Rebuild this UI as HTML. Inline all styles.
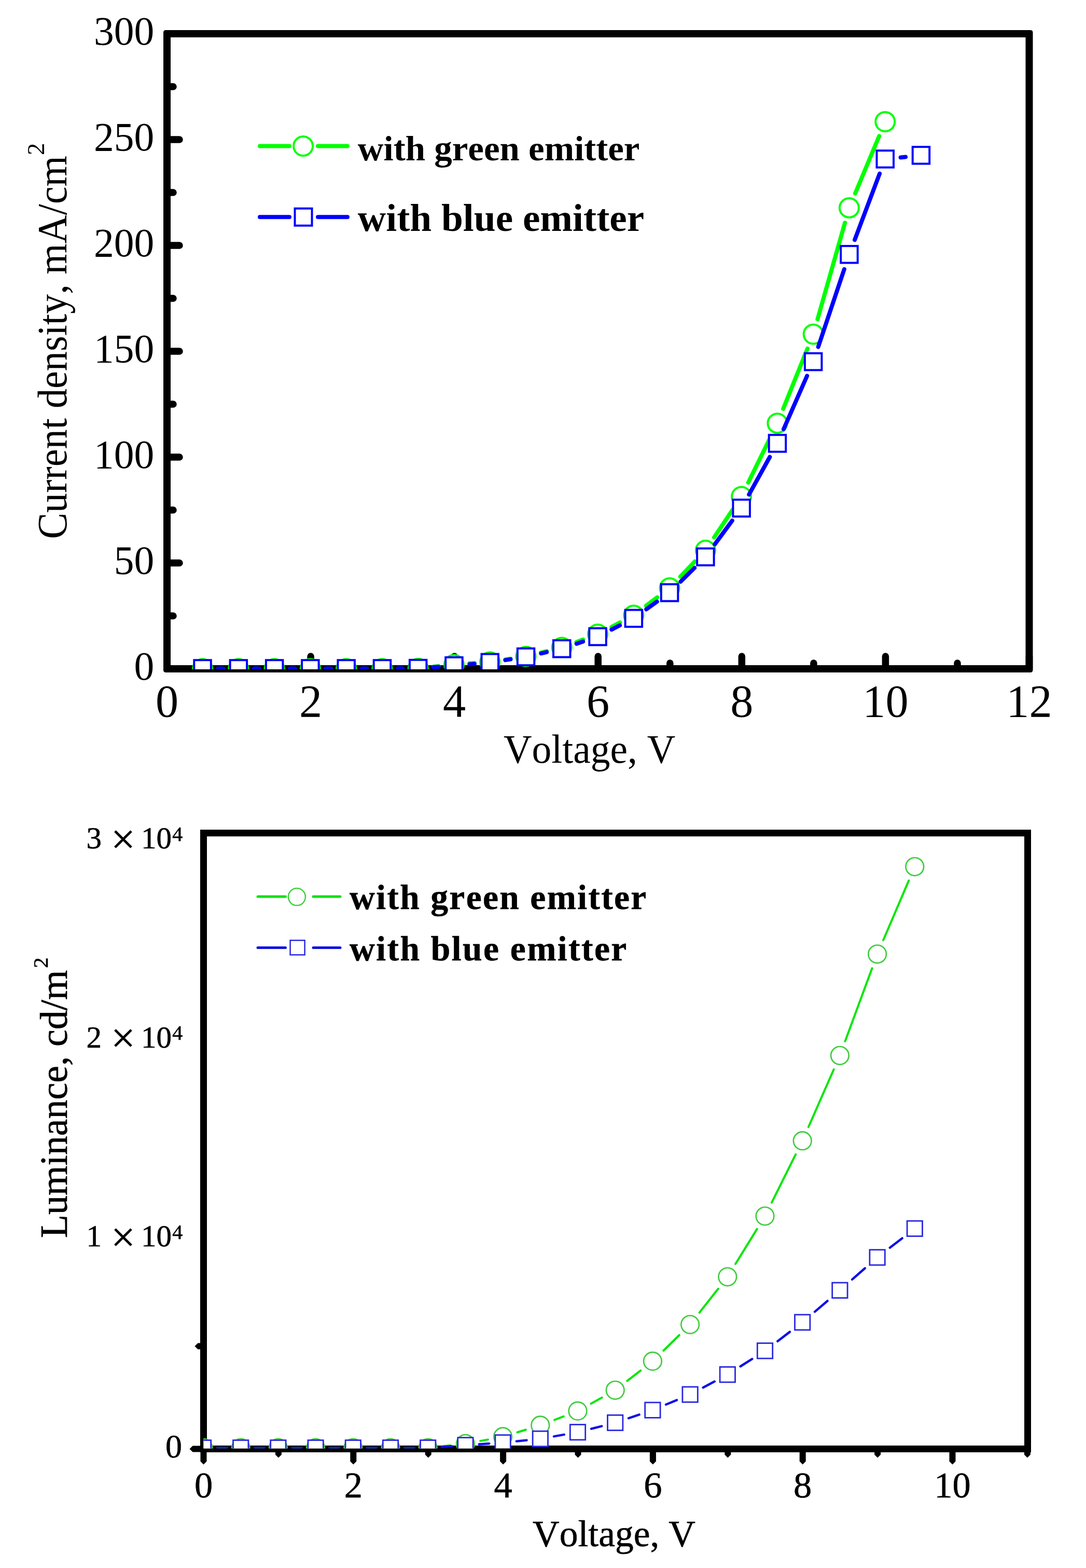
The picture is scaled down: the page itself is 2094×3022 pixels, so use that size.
<!DOCTYPE html><html><head><meta charset="utf-8"><style>html,body{margin:0;padding:0;background:#fff;}svg{display:block}text{font-kerning:none}</style></head><body>
<svg width="2094" height="3022" viewBox="0 0 2094 3022">
<rect width="2094" height="3022" fill="#fff"/>
<rect x="315.0" y="58.0" width="1676.5" height="1238.0" rx="4.5" fill="#000"/>
<rect x="329.0" y="72.0" width="1648.5" height="1210.0" fill="#fff"/>
<path d="M322.0 1289.0h24M322.0 1187.0h12M322.0 1085.0h24M322.0 983.0h12M322.0 881.0h24M322.0 779.0h12M322.0 677.0h24M322.0 575.0h12M322.0 473.0h24M322.0 371.0h12M322.0 269.0h24M322.0 167.0h12M322.0 65.0h24M322.0 1289.0v-24M460.5 1289.0v-11M599.1 1289.0v-24M737.6 1289.0v-11M876.2 1289.0v-24M1014.7 1289.0v-11M1153.2 1289.0v-24M1291.8 1289.0v-11M1430.3 1289.0v-24M1568.9 1289.0v-11M1707.4 1289.0v-24M1846.0 1289.0v-11M1984.5 1289.0v-24" stroke="#000" stroke-width="13.5" stroke-linecap="round" fill="none"/>
<defs><clipPath id="c1"><rect x="322.0" y="65.0" width="1662.5" height="1225.0"/></clipPath>
<clipPath id="c2"><rect x="392.5" y="1605.5" width="1589" height="1186"/></clipPath></defs>
<g clip-path="url(#c1)">
<path d="M420.6 1288.7L429.8 1288.7M489.8 1288.7L499.1 1288.7M559.1 1288.7L568.4 1288.7M628.4 1288.7L637.7 1288.7M697.7 1288.7L706.9 1288.7M766.9 1288.5L776.2 1288.4M836.0 1285.0L845.6 1284.0M905.4 1278.6L914.8 1278.0M974.4 1271.3L984.4 1269.7M1043.1 1257.9L1054.2 1255.0M1111.4 1237.4L1124.4 1232.6M1179.1 1208.3L1195.3 1199.7M1245.7 1167.5L1267.2 1151.2M1311.8 1111.3L1339.6 1082.2M1377.0 1035.6L1412.9 981.9M1442.8 930.1L1485.7 842.6M1510.1 787.9L1557.0 671.8M1576.4 615.1L1629.2 429.3M1649.0 372.7L1695.2 262.2" stroke="#00ff00" stroke-width="8" stroke-linecap="round" fill="none"/>
<circle cx="390.6" cy="1288.7" r="18.5" fill="#fff" stroke="#00ff00" stroke-width="4"/>
<circle cx="459.8" cy="1288.7" r="18.5" fill="#fff" stroke="#00ff00" stroke-width="4"/>
<circle cx="529.1" cy="1288.7" r="18.5" fill="#fff" stroke="#00ff00" stroke-width="4"/>
<circle cx="598.4" cy="1288.7" r="18.5" fill="#fff" stroke="#00ff00" stroke-width="4"/>
<circle cx="667.7" cy="1288.7" r="18.5" fill="#fff" stroke="#00ff00" stroke-width="4"/>
<circle cx="736.9" cy="1288.7" r="18.5" fill="#fff" stroke="#00ff00" stroke-width="4"/>
<circle cx="806.2" cy="1288.2" r="18.5" fill="#fff" stroke="#00ff00" stroke-width="4"/>
<circle cx="875.5" cy="1280.8" r="18.5" fill="#fff" stroke="#00ff00" stroke-width="4"/>
<circle cx="944.7" cy="1275.8" r="18.5" fill="#fff" stroke="#00ff00" stroke-width="4"/>
<circle cx="1014.0" cy="1265.2" r="18.5" fill="#fff" stroke="#00ff00" stroke-width="4"/>
<circle cx="1083.3" cy="1247.7" r="18.5" fill="#fff" stroke="#00ff00" stroke-width="4"/>
<circle cx="1152.5" cy="1222.3" r="18.5" fill="#fff" stroke="#00ff00" stroke-width="4"/>
<circle cx="1221.8" cy="1185.7" r="18.5" fill="#fff" stroke="#00ff00" stroke-width="4"/>
<circle cx="1291.1" cy="1133.0" r="18.5" fill="#fff" stroke="#00ff00" stroke-width="4"/>
<circle cx="1360.4" cy="1060.5" r="18.5" fill="#fff" stroke="#00ff00" stroke-width="4"/>
<circle cx="1429.6" cy="957.0" r="18.5" fill="#fff" stroke="#00ff00" stroke-width="4"/>
<circle cx="1498.9" cy="815.7" r="18.5" fill="#fff" stroke="#00ff00" stroke-width="4"/>
<circle cx="1568.2" cy="644.0" r="18.5" fill="#fff" stroke="#00ff00" stroke-width="4"/>
<circle cx="1637.4" cy="400.4" r="18.5" fill="#fff" stroke="#00ff00" stroke-width="4"/>
<circle cx="1706.7" cy="234.5" r="18.5" fill="#fff" stroke="#00ff00" stroke-width="4"/>
<path d="M420.6 1288.5L429.8 1288.5M489.8 1288.5L499.1 1288.5M559.1 1288.5L568.4 1288.5M628.4 1288.5L637.7 1288.5M697.7 1288.5L706.9 1288.5M766.9 1288.3L776.2 1288.2M836.1 1285.8L845.5 1285.2M905.3 1280.3L914.9 1279.5M974.4 1272.1L984.4 1270.6M1043.3 1259.3L1054.0 1256.8M1111.7 1240.7L1124.1 1236.5M1179.3 1213.4L1195.1 1205.3M1246.2 1174.3L1266.7 1159.6M1312.4 1121.0L1339.1 1094.5M1378.2 1049.1L1411.8 1003.5M1444.2 953.1L1484.3 880.7M1511.0 827.0L1556.1 724.5M1577.7 668.6L1627.9 518.8M1648.0 462.3L1696.1 334.6M1736.6 303.4L1746.1 302.5" stroke="#0000ff" stroke-width="8" stroke-linecap="round" fill="none"/>
<rect x="374.3" y="1272.2" width="32.5" height="32.5" fill="#fff" stroke="#0000ff" stroke-width="4"/>
<rect x="443.6" y="1272.2" width="32.5" height="32.5" fill="#fff" stroke="#0000ff" stroke-width="4"/>
<rect x="512.9" y="1272.2" width="32.5" height="32.5" fill="#fff" stroke="#0000ff" stroke-width="4"/>
<rect x="582.1" y="1272.2" width="32.5" height="32.5" fill="#fff" stroke="#0000ff" stroke-width="4"/>
<rect x="651.4" y="1272.2" width="32.5" height="32.5" fill="#fff" stroke="#0000ff" stroke-width="4"/>
<rect x="720.7" y="1272.2" width="32.5" height="32.5" fill="#fff" stroke="#0000ff" stroke-width="4"/>
<rect x="789.9" y="1271.8" width="32.5" height="32.5" fill="#fff" stroke="#0000ff" stroke-width="4"/>
<rect x="859.2" y="1266.8" width="32.5" height="32.5" fill="#fff" stroke="#0000ff" stroke-width="4"/>
<rect x="928.5" y="1260.5" width="32.5" height="32.5" fill="#fff" stroke="#0000ff" stroke-width="4"/>
<rect x="997.8" y="1249.7" width="32.5" height="32.5" fill="#fff" stroke="#0000ff" stroke-width="4"/>
<rect x="1067.0" y="1234.0" width="32.5" height="32.5" fill="#fff" stroke="#0000ff" stroke-width="4"/>
<rect x="1136.3" y="1210.8" width="32.5" height="32.5" fill="#fff" stroke="#0000ff" stroke-width="4"/>
<rect x="1205.6" y="1175.5" width="32.5" height="32.5" fill="#fff" stroke="#0000ff" stroke-width="4"/>
<rect x="1274.8" y="1126.0" width="32.5" height="32.5" fill="#fff" stroke="#0000ff" stroke-width="4"/>
<rect x="1344.1" y="1057.0" width="32.5" height="32.5" fill="#fff" stroke="#0000ff" stroke-width="4"/>
<rect x="1413.4" y="963.0" width="32.5" height="32.5" fill="#fff" stroke="#0000ff" stroke-width="4"/>
<rect x="1482.7" y="838.2" width="32.5" height="32.5" fill="#fff" stroke="#0000ff" stroke-width="4"/>
<rect x="1551.9" y="680.8" width="32.5" height="32.5" fill="#fff" stroke="#0000ff" stroke-width="4"/>
<rect x="1621.2" y="474.1" width="32.5" height="32.5" fill="#fff" stroke="#0000ff" stroke-width="4"/>
<rect x="1690.5" y="290.2" width="32.5" height="32.5" fill="#fff" stroke="#0000ff" stroke-width="4"/>
<rect x="1759.7" y="283.1" width="32.5" height="32.5" fill="#fff" stroke="#0000ff" stroke-width="4"/>
</g>
<text x="297.3" y="1310.0" font-family='"Liberation Serif", "Times New Roman", serif' font-size="77.5" text-anchor="end">0</text>
<text x="297.3" y="1106.0" font-family='"Liberation Serif", "Times New Roman", serif' font-size="77.5" text-anchor="end">50</text>
<text x="297.3" y="902.0" font-family='"Liberation Serif", "Times New Roman", serif' font-size="77.5" text-anchor="end">100</text>
<text x="297.3" y="698.0" font-family='"Liberation Serif", "Times New Roman", serif' font-size="77.5" text-anchor="end">150</text>
<text x="297.3" y="494.0" font-family='"Liberation Serif", "Times New Roman", serif' font-size="77.5" text-anchor="end">200</text>
<text x="297.3" y="290.0" font-family='"Liberation Serif", "Times New Roman", serif' font-size="77.5" text-anchor="end">250</text>
<text x="297.3" y="86.0" font-family='"Liberation Serif", "Times New Roman", serif' font-size="77.5" text-anchor="end">300</text>
<text x="322.0" y="1380.8" font-family='"Liberation Serif", "Times New Roman", serif' font-size="88.3" text-anchor="middle">0</text>
<text x="599.1" y="1380.8" font-family='"Liberation Serif", "Times New Roman", serif' font-size="88.3" text-anchor="middle">2</text>
<text x="876.2" y="1380.8" font-family='"Liberation Serif", "Times New Roman", serif' font-size="88.3" text-anchor="middle">4</text>
<text x="1153.2" y="1380.8" font-family='"Liberation Serif", "Times New Roman", serif' font-size="88.3" text-anchor="middle">6</text>
<text x="1430.3" y="1380.8" font-family='"Liberation Serif", "Times New Roman", serif' font-size="88.3" text-anchor="middle">8</text>
<text x="1707.4" y="1380.8" font-family='"Liberation Serif", "Times New Roman", serif' font-size="88.3" text-anchor="middle">10</text>
<text x="1984.5" y="1380.8" font-family='"Liberation Serif", "Times New Roman", serif' font-size="88.3" text-anchor="middle">12</text>
<text x="971" y="1469.5" font-family='"Liberation Serif", "Times New Roman", serif' font-size="78.6" textLength="331.3" lengthAdjust="spacingAndGlyphs">Voltage, V</text>
<text transform="translate(127.5 1039) rotate(-90)" font-family='"Liberation Serif", "Times New Roman", serif' font-size="80" textLength="738.9" lengthAdjust="spacingAndGlyphs">Current density, mA/cm</text>
<text transform="translate(84.7 299.1) rotate(-90)" font-family='"Liberation Serif", "Times New Roman", serif' font-size="47">2</text>
<path d="M501 281.5H558M613 281.5H670" stroke="#00ff00" stroke-width="8" stroke-linecap="round"/>
<circle cx="584.6" cy="281.6" r="18.5" fill="#fff" stroke="#00ff00" stroke-width="4"/>
<path d="M501 418.3H558M613 418.3H670" stroke="#0000ff" stroke-width="8" stroke-linecap="round"/>
<rect x="568.5" y="401.8" width="33" height="33" fill="#fff" stroke="#0000ff" stroke-width="4"/>
<text x="689.8" y="309" font-family='"Liberation Serif", "Times New Roman", serif' font-size="67.7" font-weight="bold" textLength="543.6" lengthAdjust="spacingAndGlyphs">with green emitter</text>
<text x="689.8" y="444.8" font-family='"Liberation Serif", "Times New Roman", serif' font-size="73.3" font-weight="bold" textLength="552.3" lengthAdjust="spacingAndGlyphs">with blue emitter</text>
<path d="M386.5 2792.5V2816.5L392.5 2822.5L398.5 2816.5V2792.5ZM530.9 2792.5V2803.5L536.9 2809.5L542.9 2803.5V2792.5ZM675.3 2792.5V2816.5L681.3 2822.5L687.3 2816.5V2792.5ZM819.7 2792.5V2803.5L825.7 2809.5L831.7 2803.5V2792.5ZM964.1 2792.5V2816.5L970.1 2822.5L976.1 2816.5V2792.5ZM1108.5 2792.5V2803.5L1114.5 2809.5L1120.5 2803.5V2792.5ZM1252.9 2792.5V2816.5L1258.9 2822.5L1264.9 2816.5V2792.5ZM1397.3 2792.5V2803.5L1403.3 2809.5L1409.3 2803.5V2792.5ZM1541.7 2792.5V2816.5L1547.7 2822.5L1553.7 2816.5V2792.5ZM1686.1 2792.5V2803.5L1692.1 2809.5L1698.1 2803.5V2792.5ZM1830.5 2792.5V2816.5L1836.5 2822.5L1842.5 2816.5V2792.5ZM1974.9 2792.5V2803.5L1980.9 2809.5L1986.9 2803.5V2792.5ZM392.5 2786.5H371.5L365.5 2792.5L371.5 2798.5H392.5ZM392.5 2588.5H381.5L375.5 2594.5L381.5 2600.5H392.5Z" fill="#000"/>
<rect x="392.5" y="1605.5" width="1589.0" height="1187.0" fill="none" stroke="#000" stroke-width="13" stroke-linejoin="miter"/>
<g clip-path="url(#c2)">
<path d="M421.2 2790.5L435.0 2790.5M493.4 2790.5L507.2 2790.5M565.6 2790.5L579.4 2790.5M637.8 2790.5L651.6 2790.5M710.0 2790.5L723.8 2790.5M782.2 2790.5L796.0 2790.5M854.2 2787.3L868.4 2785.7M926.1 2777.1L940.9 2774.4M997.5 2760.5L1013.9 2755.5M1069.1 2736.6L1086.7 2729.8M1139.5 2705.2L1160.7 2693.5M1209.3 2661.4L1235.3 2641.3M1279.3 2603.0L1309.7 2573.2M1348.6 2529.8L1384.8 2483.8M1418.1 2436.0L1459.7 2368.6M1488.0 2317.7L1534.2 2224.8M1558.9 2172.0L1607.7 2061.0M1629.5 2006.9L1681.5 1866.2M1703.1 1812.0L1752.3 1697.1" stroke="#00e600" stroke-width="4" stroke-linecap="round" fill="none"/>
<circle cx="392.0" cy="2790.5" r="17.3" fill="#fff" stroke="#40cc40" stroke-width="2.7"/>
<circle cx="464.2" cy="2790.5" r="17.3" fill="#fff" stroke="#40cc40" stroke-width="2.7"/>
<circle cx="536.4" cy="2790.5" r="17.3" fill="#fff" stroke="#40cc40" stroke-width="2.7"/>
<circle cx="608.6" cy="2790.5" r="17.3" fill="#fff" stroke="#40cc40" stroke-width="2.7"/>
<circle cx="680.8" cy="2790.5" r="17.3" fill="#fff" stroke="#40cc40" stroke-width="2.7"/>
<circle cx="753.0" cy="2790.5" r="17.3" fill="#fff" stroke="#40cc40" stroke-width="2.7"/>
<circle cx="825.2" cy="2790.5" r="17.3" fill="#fff" stroke="#40cc40" stroke-width="2.7"/>
<circle cx="897.4" cy="2782.5" r="17.3" fill="#fff" stroke="#40cc40" stroke-width="2.7"/>
<circle cx="969.6" cy="2769.0" r="17.3" fill="#fff" stroke="#40cc40" stroke-width="2.7"/>
<circle cx="1041.8" cy="2747.0" r="17.3" fill="#fff" stroke="#40cc40" stroke-width="2.7"/>
<circle cx="1114.0" cy="2719.4" r="17.3" fill="#fff" stroke="#40cc40" stroke-width="2.7"/>
<circle cx="1186.2" cy="2679.3" r="17.3" fill="#fff" stroke="#40cc40" stroke-width="2.7"/>
<circle cx="1258.4" cy="2623.4" r="17.3" fill="#fff" stroke="#40cc40" stroke-width="2.7"/>
<circle cx="1330.6" cy="2552.8" r="17.3" fill="#fff" stroke="#40cc40" stroke-width="2.7"/>
<circle cx="1402.8" cy="2460.8" r="17.3" fill="#fff" stroke="#40cc40" stroke-width="2.7"/>
<circle cx="1475.0" cy="2343.8" r="17.3" fill="#fff" stroke="#40cc40" stroke-width="2.7"/>
<circle cx="1547.2" cy="2198.7" r="17.3" fill="#fff" stroke="#40cc40" stroke-width="2.7"/>
<circle cx="1619.4" cy="2034.3" r="17.3" fill="#fff" stroke="#40cc40" stroke-width="2.7"/>
<circle cx="1691.6" cy="1838.8" r="17.3" fill="#fff" stroke="#40cc40" stroke-width="2.7"/>
<circle cx="1763.8" cy="1670.3" r="17.3" fill="#fff" stroke="#40cc40" stroke-width="2.7"/>
<path d="M418.4 2790.4L437.8 2790.4M490.6 2790.4L510.0 2790.4M562.8 2790.4L582.2 2790.4M635.0 2790.4L654.4 2790.4M707.1 2790.4L726.6 2790.4M779.4 2790.4L798.9 2790.4M851.5 2788.6L871.1 2787.2M923.7 2783.6L943.3 2782.2M995.9 2777.7L1015.5 2775.7M1068.0 2768.4L1087.8 2764.9M1140.0 2753.7L1160.2 2748.6M1212.0 2733.3L1232.6 2726.4M1284.0 2707.0L1305.0 2698.3M1355.7 2674.2L1377.7 2662.6M1427.6 2633.5L1450.2 2619.1M1499.3 2585.0L1522.9 2566.9M1571.1 2528.1L1595.5 2507.2M1643.2 2465.9L1667.8 2444.3M1715.8 2404.7L1739.6 2386.5" stroke="#1010e6" stroke-width="4.5" stroke-linecap="round" fill="none"/>
<rect x="377.3" y="2775.7" width="29.4" height="29.4" fill="#fff" stroke="#2828e0" stroke-width="2.8"/>
<rect x="449.5" y="2775.7" width="29.4" height="29.4" fill="#fff" stroke="#2828e0" stroke-width="2.8"/>
<rect x="521.7" y="2775.7" width="29.4" height="29.4" fill="#fff" stroke="#2828e0" stroke-width="2.8"/>
<rect x="593.9" y="2775.7" width="29.4" height="29.4" fill="#fff" stroke="#2828e0" stroke-width="2.8"/>
<rect x="666.1" y="2775.7" width="29.4" height="29.4" fill="#fff" stroke="#2828e0" stroke-width="2.8"/>
<rect x="738.3" y="2775.7" width="29.4" height="29.4" fill="#fff" stroke="#2828e0" stroke-width="2.8"/>
<rect x="810.5" y="2775.7" width="29.4" height="29.4" fill="#fff" stroke="#2828e0" stroke-width="2.8"/>
<rect x="882.7" y="2770.7" width="29.4" height="29.4" fill="#fff" stroke="#2828e0" stroke-width="2.8"/>
<rect x="954.9" y="2765.7" width="29.4" height="29.4" fill="#fff" stroke="#2828e0" stroke-width="2.8"/>
<rect x="1027.1" y="2758.3" width="29.4" height="29.4" fill="#fff" stroke="#2828e0" stroke-width="2.8"/>
<rect x="1099.3" y="2745.6" width="29.4" height="29.4" fill="#fff" stroke="#2828e0" stroke-width="2.8"/>
<rect x="1171.5" y="2727.3" width="29.4" height="29.4" fill="#fff" stroke="#2828e0" stroke-width="2.8"/>
<rect x="1243.7" y="2703.0" width="29.4" height="29.4" fill="#fff" stroke="#2828e0" stroke-width="2.8"/>
<rect x="1315.9" y="2672.9" width="29.4" height="29.4" fill="#fff" stroke="#2828e0" stroke-width="2.8"/>
<rect x="1388.1" y="2634.5" width="29.4" height="29.4" fill="#fff" stroke="#2828e0" stroke-width="2.8"/>
<rect x="1460.3" y="2588.7" width="29.4" height="29.4" fill="#fff" stroke="#2828e0" stroke-width="2.8"/>
<rect x="1532.5" y="2533.8" width="29.4" height="29.4" fill="#fff" stroke="#2828e0" stroke-width="2.8"/>
<rect x="1604.7" y="2472.1" width="29.4" height="29.4" fill="#fff" stroke="#2828e0" stroke-width="2.8"/>
<rect x="1676.9" y="2408.7" width="29.4" height="29.4" fill="#fff" stroke="#2828e0" stroke-width="2.8"/>
<rect x="1749.1" y="2353.1" width="29.4" height="29.4" fill="#fff" stroke="#2828e0" stroke-width="2.8"/>
</g>
<g stroke="#000" stroke-width="0.6">
<text x="166.5" y="1635.3" font-family='"Liberation Serif", "Times New Roman", serif' font-size="59">3</text>
<text x="214" y="1644.9" font-family='"Liberation Serif", "Times New Roman", serif' font-size="83">×</text>
<text x="272.1" y="1635.3" font-family='"Liberation Serif", "Times New Roman", serif' font-size="59">10</text>
<text x="332.2" y="1620.7" font-family='"Liberation Serif", "Times New Roman", serif' font-size="40">4</text>
<text x="166.5" y="2018.6" font-family='"Liberation Serif", "Times New Roman", serif' font-size="59">2</text>
<text x="214" y="2028.2" font-family='"Liberation Serif", "Times New Roman", serif' font-size="83">×</text>
<text x="272.1" y="2018.6" font-family='"Liberation Serif", "Times New Roman", serif' font-size="59">10</text>
<text x="332.2" y="2004.0" font-family='"Liberation Serif", "Times New Roman", serif' font-size="40">4</text>
<text x="166.5" y="2402.3" font-family='"Liberation Serif", "Times New Roman", serif' font-size="59">1</text>
<text x="214" y="2411.9" font-family='"Liberation Serif", "Times New Roman", serif' font-size="83">×</text>
<text x="272.1" y="2402.3" font-family='"Liberation Serif", "Times New Roman", serif' font-size="59">10</text>
<text x="332.2" y="2387.7" font-family='"Liberation Serif", "Times New Roman", serif' font-size="40">4</text>
<text x="319" y="2808.5" font-family='"Liberation Serif", "Times New Roman", serif' font-size="64">0</text>
<text x="392.5" y="2885.7" font-family='"Liberation Serif", "Times New Roman", serif' font-size="70.5" text-anchor="middle">0</text>
<text x="681.3" y="2885.7" font-family='"Liberation Serif", "Times New Roman", serif' font-size="70.5" text-anchor="middle">2</text>
<text x="970.1" y="2885.7" font-family='"Liberation Serif", "Times New Roman", serif' font-size="70.5" text-anchor="middle">4</text>
<text x="1258.9" y="2885.7" font-family='"Liberation Serif", "Times New Roman", serif' font-size="70.5" text-anchor="middle">6</text>
<text x="1547.7" y="2885.7" font-family='"Liberation Serif", "Times New Roman", serif' font-size="70.5" text-anchor="middle">8</text>
<text x="1836.5" y="2885.7" font-family='"Liberation Serif", "Times New Roman", serif' font-size="70.5" text-anchor="middle">10</text>
<text x="1027" y="2980.4" font-family='"Liberation Serif", "Times New Roman", serif' font-size="72" textLength="313.9" lengthAdjust="spacingAndGlyphs">Voltage, V</text>
<text transform="translate(129.4 2386) rotate(-90)" font-family='"Liberation Serif", "Times New Roman", serif' font-size="75" textLength="516.5" lengthAdjust="spacingAndGlyphs">Luminance, cd/m</text>
<text transform="translate(91.9 1865.8) rotate(-90)" font-family='"Liberation Serif", "Times New Roman", serif' font-size="41">2</text>
<path d="M497 1728H550.5M604 1728H656" stroke="#10e010" stroke-width="5" stroke-linecap="round"/>
<circle cx="572.4" cy="1728.6" r="16.5" fill="#fff" stroke="#40d040" stroke-width="2.5"/>
<path d="M497 1826.6H550.5M604 1826.6H656" stroke="#1010e0" stroke-width="5" stroke-linecap="round"/>
<rect x="559.6" y="1812.3" width="28" height="28" fill="#fff" stroke="#2828e0" stroke-width="2.5"/>
<text x="674.1" y="1752.2" font-family='"Liberation Serif", "Times New Roman", serif' font-size="67.5" font-weight="bold" textLength="572.2" lengthAdjust="spacing">with green emitter</text>
<text x="674.1" y="1851.4" font-family='"Liberation Serif", "Times New Roman", serif' font-size="67.5" font-weight="bold" textLength="534.2" lengthAdjust="spacing">with blue emitter</text>
</g>
</svg></body></html>
